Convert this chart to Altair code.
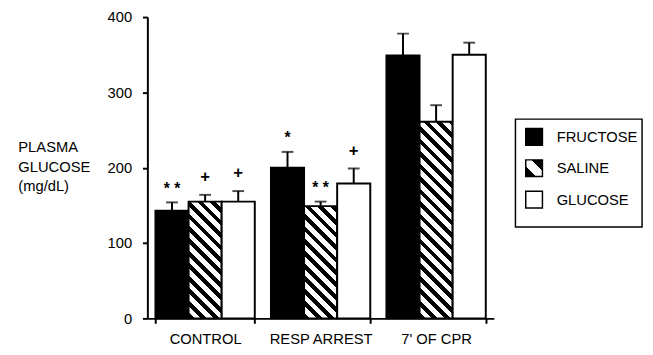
import math
import altair as alt
import pandas as pd

# ---------------- data ----------------
groups = ["CONTROL", "RESP ARREST", "7' OF CPR"]
treatments = ["FRUCTOSE", "SALINE", "GLUCOSE"]
fructose = [143, 200, 349]
saline = [155, 149, 261]
glucose = [155, 179, 350]
fructose_err = [11, 21, 29]
saline_err = [9, 6, 22]
glucose_err = [14, 20, 16]
fructose_sig = ["* *", "*", ""]
saline_sig = ["+", "* *", ""]
glucose_sig = ["+", "+", ""]
y_ticks = [0, 100, 200, 300, 400]
y_title = ["PLASMA", "GLUCOSE", "(mg/dL)"]

# ---------------- table ----------------
rows = []
series = {
    "FRUCTOSE": (fructose, fructose_err, fructose_sig),
    "SALINE": (saline, saline_err, saline_sig),
    "GLUCOSE": (glucose, glucose_err, glucose_sig),
}
for t in treatments:
    vals, errs, sigs = series[t]
    for g, v, e, s in zip(groups, vals, errs, sigs):
        rows.append({"group": g, "treat": t, "mean": v, "upper": v + e, "sig": s})
df = pd.DataFrame(rows)

W, H, YMAX = 353, 307, 400
P_IN, P_OUT = 0.14, 0.07
step = W / (len(groups) - P_IN + 2 * P_OUT)
bar_w = step * (1 - P_IN) / len(treatments)
FONT = "Liberation Sans"
LEG_W, LEG_H = 129, 110


def hatch(w, h, period=9.0, black=0.47):
    """Diagonal '\\' stripes as a hard-stop linear gradient at 45 degrees."""
    r = h / w
    s = (1 + r) / (1 + r * r)
    L = (w + h) / math.sqrt(2)
    n = int(math.ceil(L / period))
    stops = []
    for k in range(n):
        a = k * period / L
        b = min((k + black) * period / L, 1.0)
        c = min((k + 1) * period / L, 1.0)
        stops += [
            alt.GradientStop(offset=a, color="black"),
            alt.GradientStop(offset=b, color="black"),
            alt.GradientStop(offset=b, color="white"),
            alt.GradientStop(offset=c, color="white"),
        ]
    return alt.LinearGradient(gradient="linear", stops=stops,
                              x1=0, y1=1, x2=s, y2=1 - s * r)


X = alt.X("group:N", sort=groups,
          scale=alt.Scale(paddingInner=P_IN, paddingOuter=P_OUT),
          axis=alt.Axis(title=None, labelAngle=0, tickBand="extent",
                        labelFontSize=15, labelPadding=9, tickSize=5,
                        tickWidth=2, domainWidth=2))
XO = alt.XOffset("treat:N", sort=treatments,
                 scale=alt.Scale(paddingInner=0, paddingOuter=0))
Y = alt.Y("mean:Q", scale=alt.Scale(domain=[0, YMAX], nice=False),
          axis=alt.Axis(values=y_ticks, grid=False, title=y_title,
                        titleAngle=0, titleAlign="left", titleBaseline="middle",
                        titleX=-132, titleY=132, titleFontSize=15,
                        titleFontWeight="normal", titleLineHeight=20,
                        labelFontSize=15, labelPadding=11, tickSize=5,
                        tickWidth=2, domainWidth=2))

base = alt.Chart(df)

fru = base.transform_filter(alt.FieldEqualPredicate(field="treat", equal="FRUCTOSE")).mark_bar(
    fill="black", stroke="black", strokeWidth=2).encode(x=X, xOffset=XO, y=Y)
glu = base.transform_filter(alt.FieldEqualPredicate(field="treat", equal="GLUCOSE")).mark_bar(
    fill="white", stroke="black", strokeWidth=2).encode(x=X, xOffset=XO, y=Y)

sal_layers = []
for g, v in zip(groups, saline):
    sal_layers.append(
        base.transform_filter(alt.FieldEqualPredicate(field="treat", equal="SALINE"))
        .transform_filter(alt.FieldEqualPredicate(field="group", equal=g))
        .mark_bar(fill=hatch(bar_w, v * H / YMAX), stroke="black", strokeWidth=2)
        .encode(x=X, xOffset=XO, y=Y)
    )

stem = base.mark_rule(color="black", strokeWidth=2).encode(
    x=X, xOffset=XO, y=Y, y2=alt.Y2("upper:Q"))
cap = base.mark_tick(color="black", orient="horizontal", size=12, thickness=2).encode(
    x=X, xOffset=XO, y=alt.Y("upper:Q"))

plus = base.transform_filter(alt.FieldEqualPredicate(field="sig", equal="+")).mark_text(
    font=FONT, fontSize=17, fontWeight="bold", baseline="middle", dy=-18,
    fill="black").encode(
    x=X, xOffset=XO, y=alt.Y("upper:Q"), text="sig:N")
stars = base.transform_filter(alt.FieldOneOfPredicate(field="sig", oneOf=["*", "* *"])).mark_text(
    font=FONT, fontSize=16, fontWeight="bold", baseline="middle", dy=-14,
    fill="black").encode(
    x=X, xOffset=XO, y=alt.Y("upper:Q"), text="sig:N")

main = alt.layer(fru, *sal_layers, glu, stem, cap, plus, stars).properties(width=W, height=H)

# ---------------- legend panel ----------------
leg_df = pd.DataFrame({"name": treatments})
LY = alt.Y("name:N", sort=treatments, axis=None,
           scale=alt.Scale(type="point", range=[18, 82], padding=0))
leg_base = alt.Chart(leg_df)
sym_f = leg_base.transform_filter(alt.FieldEqualPredicate(field="name", equal="FRUCTOSE")).mark_square(
    size=289, fill="black", stroke="black", strokeWidth=1.5, opacity=1).encode(
    x=alt.value(19), y=LY)
sym_s = leg_base.transform_filter(alt.FieldEqualPredicate(field="name", equal="SALINE")).mark_square(
    size=289, stroke="black", strokeWidth=1.5, opacity=1,
    fill=alt.LinearGradient(gradient="linear", x1=0, y1=1, x2=1, y2=0, stops=[
        alt.GradientStop(offset=0, color="black"),
        alt.GradientStop(offset=0.3, color="black"),
        alt.GradientStop(offset=0.3, color="white"),
        alt.GradientStop(offset=0.68, color="white"),
        alt.GradientStop(offset=0.68, color="black"),
        alt.GradientStop(offset=1, color="black"),
    ])).encode(x=alt.value(19), y=LY)
sym_g = leg_base.transform_filter(alt.FieldEqualPredicate(field="name", equal="GLUCOSE")).mark_square(
    size=289, fill="white", stroke="black", strokeWidth=1.5, opacity=1).encode(
    x=alt.value(19), y=LY)
leg_txt = leg_base.mark_text(font=FONT, fontSize=15, align="left", baseline="middle",
                             fill="black").encode(x=alt.value(42), y=LY, text="name:N")
legend = alt.layer(sym_f, sym_s, sym_g, leg_txt).properties(
    width=LEG_W, height=LEG_H,
    view=alt.ViewBackground(stroke="black", strokeWidth=1.5, fill="white"))

spacer = alt.Chart(pd.DataFrame({"a": [0]})).mark_point(opacity=0, size=1).properties(
    width=LEG_W, height=102, view=alt.ViewBackground(stroke="transparent"))

right = alt.vconcat(spacer, legend, spacing=0)

chart = alt.hconcat(main, right, spacing=20).properties(
    padding={"left": 9, "top": -2, "right": 2, "bottom": 0},
    background="white",
).configure(font=FONT).configure_view(stroke="transparent").configure_axis(
    labelColor="black", titleColor="black", domainColor="black", tickColor="black",
    labelFont=FONT, titleFont=FONT)

chart.save("out.html", embed_options={"renderer": "svg", "actions": False})
